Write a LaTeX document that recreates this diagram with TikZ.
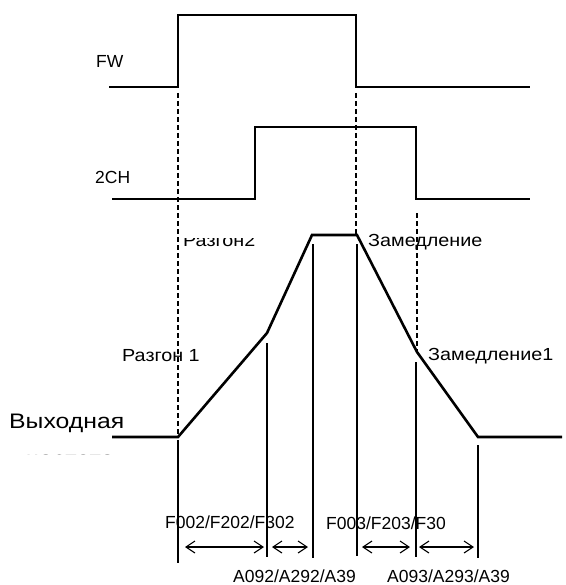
\documentclass[tikz,border=0pt]{standalone}
\usepackage{fontspec}
\setmainfont{Liberation Sans}
\newfontfamily\widefont[FakeStretch=1.13]{Liberation Sans}
\newfontfamily\widerfont[FakeStretch=1.18]{Liberation Sans}
\usetikzlibrary{arrows.meta}
\begin{document}
\begin{tikzpicture}[x=1pt,y=-1pt,
  sig/.style={line width=2.6pt,line join=miter},
  guide/.style={line width=1.1pt,dash pattern=on 5pt off 3pt},
  tick/.style={line width=1.1pt},
  span/.style={line width=1.1pt,{Straight Barb[length=9pt,width=12pt,line width=1.1pt]}-{Straight Barb[length=9pt,width=12pt,line width=1.1pt]}},
  lbl/.style={inner sep=0pt,anchor=base west,font=\fontsize{17.5}{20}\selectfont},
  cyr/.style={inner sep=0pt,anchor=base west,font=\widefont\fontsize{17.5}{20}\selectfont},
  big/.style={inner sep=0pt,anchor=base west,font=\widerfont\fontsize{21}{24}\selectfont}]
\useasboundingbox (0,0) rectangle (565,585);
% FW signal
\draw[sig] (109,87) -- (178,87) -- (178,15) -- (356,15) -- (356,87) -- (530,87);
% 2CH signal
\draw[sig] (112,199) -- (255,199) -- (255,127) -- (416,127) -- (416,199) -- (530,199);
% key points of output curve
\coordinate (o0) at (112,437);
\coordinate (o1) at (178,437);
\coordinate (o2) at (267,333);
\coordinate (o3) at (312,235);
\coordinate (o4) at (357,235);
\coordinate (o5) at (417,352);
\coordinate (o6) at (478,437);
\coordinate (o7) at (562,437);
% dashed guides
\draw[guide] (178,93) -- (o1);
\draw[guide] (356,93) -- (356,235);
\draw[guide] (417,213) -- (o5);
% output curve
\draw[sig] (o0) -- (o1) -- (o2) -- (o3) -- (o4) -- (o5) -- (o6) -- (o7);
% solid verticals
\draw[tick] (178,440) -- (178,563);
\draw[tick] (267,343) -- (267,557);
\draw[tick] (313,244) -- (313,558);
\draw[tick] (357,244) -- (357,556);
\draw[tick] (416,362) -- (416,557);
\draw[tick] (478,445) -- (478,558);
% span arrows
\coordinate (a1) at (185,547); \coordinate (b1) at (264,547);
\coordinate (a2) at (272,547); \coordinate (b2) at (308,547);
\coordinate (a3) at (362,547); \coordinate (b3) at (410,547);
\coordinate (a4) at (419,547); \coordinate (b4) at (474,547);
\draw[span] (a1) -- (b1);
\draw[span] (a2) -- (b2);
\draw[span] (a3) -- (b3);
\draw[span] (a4) -- (b4);
% labels
\node[lbl] (fw) at (96,68) {FW};
\node[lbl] (ch) at (95,183) {2CH};
\begin{scope}
\clip (150,238) rectangle (300,260);
\node[cyr] (r2) at (183,246) {Разгон2};
\end{scope}
\node[cyr] (zm) at (368,246) {Замедление};
\node[cyr] (r1) at (122,361) {Разгон 1};
\node[cyr] (zm1) at (428,360) {Замедление1};
\node[big] (out) at (9,428) {Выходная};
\begin{scope}
\clip (0,440) rectangle (140,454.5);
\node[big] (out2) at (26,466) {частота};
\end{scope}
\node[lbl] (f1) at (165,528) {F002/F202/F302};
\node[lbl] (f2) at (326,529) {F003/F203/F30};
\node[lbl] (a92) at (233,582) {A092/A292/A39};
\node[lbl] (a93) at (387,582) {A093/A293/A39};
\end{tikzpicture}
\end{document}
